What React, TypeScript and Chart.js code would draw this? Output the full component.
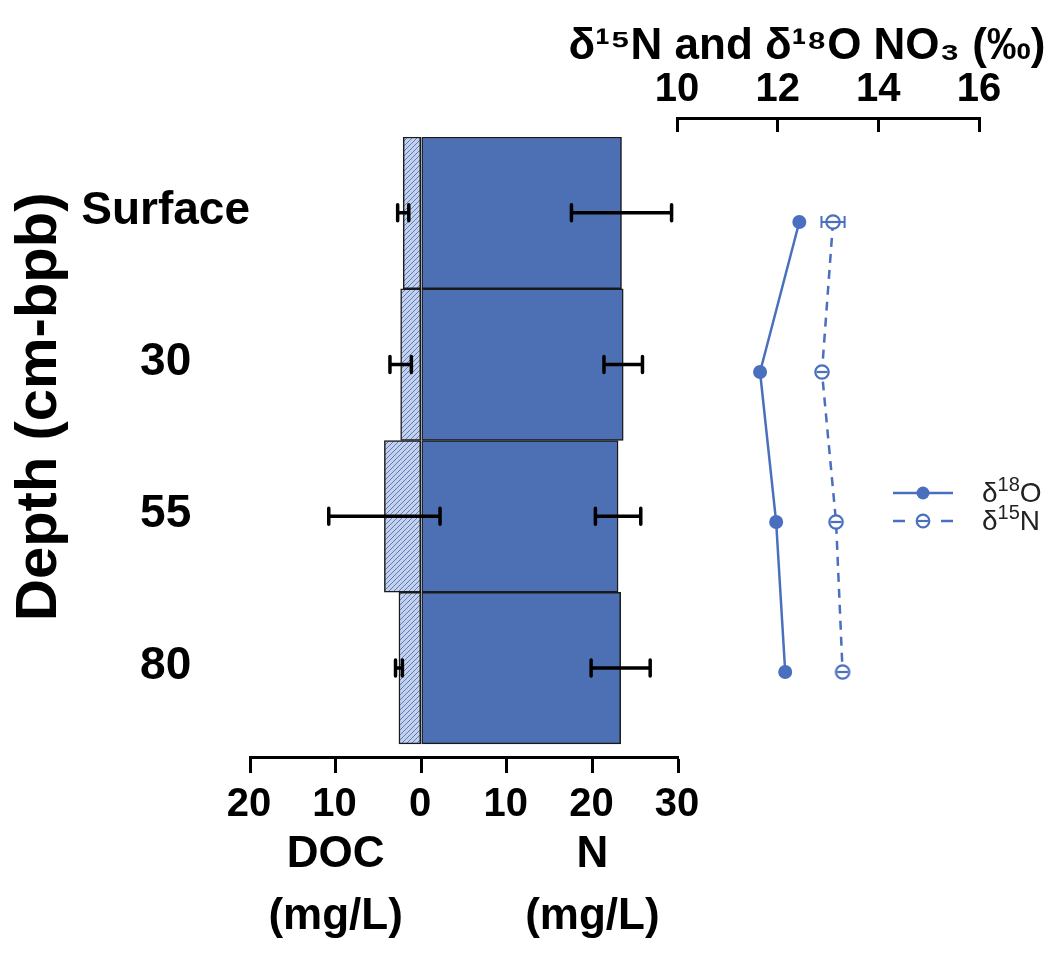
import React, { useEffect, useRef } from 'react';
import { Chart, registerables } from 'chart.js';

Chart.register(...registerables);

// ---- data ----
const depthLabels = ['Surface', '30', '55', '80'];
const depthIndex = [0, 1, 2, 3];
const docValues = [2.1, 2.4, 4.3, 2.6];
const docSd = [0.65, 1.25, 6.5, 0.4];
const nValues = [23.4, 23.6, 23.0, 23.3];
const nSd = [5.85, 2.25, 2.65, 3.45];
const d18O = [12.43, 11.65, 11.97, 12.15];
const d15N = [13.1, 12.88, 13.16, 13.29];
const d15NSd = [0.23, 0, 0, 0];
const concTicks = [-20, -10, 0, 10, 20, 30];
const isoTicks = [10, 12, 14, 16];
const unitTitlePos = [-10, 20];
const unitTitles = [['DOC', '(mg/L)'], ['N', '(mg/L)']];
const seriesNames = ['δ18O', 'δ15N'];

const BLUE = '#4a6fbe';
const BAR_BLUE = '#4d6fb3';
const FONT = 'Liberation Sans';

function makeHatch(ctx: CanvasRenderingContext2D) {
  const p = document.createElement('canvas');
  p.width = 5;
  p.height = 5;
  const g = p.getContext('2d')!;
  g.fillStyle = '#c3d1ec';
  g.fillRect(0, 0, 5, 5);
  g.strokeStyle = '#5d7cbb';
  g.lineWidth = 1;
  g.beginPath();
  g.moveTo(0, 5);
  g.lineTo(5, 0);
  g.moveTo(-1, 1);
  g.lineTo(1, -1);
  g.moveTo(4, 6);
  g.lineTo(6, 4);
  g.stroke();
  return ctx.createPattern(p, 'repeat')!;
}

function makeTheta(color: string) {
  const c = document.createElement('canvas');
  c.width = 18;
  c.height = 18;
  const g = c.getContext('2d')!;
  g.fillStyle = '#fff';
  g.beginPath();
  g.arc(9, 9, 6.7, 0, Math.PI * 2);
  g.fill();
  g.strokeStyle = color;
  g.lineWidth = 2.2;
  g.stroke();
  g.beginPath();
  g.moveTo(3.5, 9);
  g.lineTo(14.5, 9);
  g.stroke();
  return c;
}

const errPluginA = {
  id: 'errA',
  afterDatasetsDraw(chart: any) {
    const { ctx } = chart;
    const x = chart.scales.x;
    const y = chart.scales.y;
    ctx.save();
    ctx.strokeStyle = '#000';
    ctx.lineWidth = 3.5;
    ctx.lineCap = 'round';
    const cap = 8;
    const draw = (lo: number, hi: number, yy: number) => {
      const x1 = x.getPixelForValue(lo);
      const x2 = x.getPixelForValue(hi);
      ctx.beginPath();
      ctx.moveTo(x1, yy);
      ctx.lineTo(x2, yy);
      ctx.moveTo(x1, yy - cap);
      ctx.lineTo(x1, yy + cap);
      ctx.moveTo(x2, yy - cap);
      ctx.lineTo(x2, yy + cap);
      ctx.stroke();
    };
    depthIndex.forEach((i) => {
      const yy = y.getPixelForValue(i);
      draw(-(docValues[i] - docSd[i]), -(docValues[i] + docSd[i]), yy);
      draw(nValues[i] - nSd[i], nValues[i] + nSd[i], yy);
    });
    ctx.restore();
  },
};

const errPluginB = {
  id: 'errB',
  afterDatasetsDraw(chart: any) {
    const { ctx } = chart;
    const x = chart.scales.x;
    const y = chart.scales.y;
    ctx.save();
    ctx.strokeStyle = BLUE;
    ctx.lineWidth = 2;
    const cap = 6;
    depthIndex.forEach((i) => {
      if (!d15NSd[i]) return;
      const yy = y.getPixelForValue(i);
      const x1 = x.getPixelForValue(d15N[i] - d15NSd[i]);
      const x2 = x.getPixelForValue(d15N[i] + d15NSd[i]);
      ctx.beginPath();
      ctx.moveTo(x1, yy);
      ctx.lineTo(x2, yy);
      ctx.moveTo(x1, yy - cap);
      ctx.lineTo(x1, yy + cap);
      ctx.moveTo(x2, yy - cap);
      ctx.lineTo(x2, yy + cap);
      ctx.stroke();
    });
    ctx.restore();
  },
};

function LegendMarker({ dashed }: { dashed: boolean }) {
  return (
    <svg width={66} height={20} style={{ display: 'block' }}>
      {dashed ? (
        <>
          <line x1={3} y1={10} x2={15} y2={10} stroke={BLUE} strokeWidth={2.5} />
          <line x1={51} y1={10} x2={63} y2={10} stroke={BLUE} strokeWidth={2.5} />
          <circle cx={33} cy={10} r={6.3} fill="#fff" stroke={BLUE} strokeWidth={2.2} />
          <line x1={27.5} y1={10} x2={38.5} y2={10} stroke={BLUE} strokeWidth={2.2} />
        </>
      ) : (
        <>
          <line x1={3} y1={10} x2={63} y2={10} stroke={BLUE} strokeWidth={2.5} />
          <circle cx={33} cy={10} r={6.5} fill={BLUE} />
        </>
      )}
    </svg>
  );
}

const noPad = (s: any) => {
  s.paddingLeft = 0;
  s.paddingRight = 0;
  s.paddingTop = 0;
  s.paddingBottom = 0;
};

export default function App() {
  const aRef = useRef<HTMLCanvasElement>(null);
  const bRef = useRef<HTMLCanvasElement>(null);

  useEffect(() => {
    const ca = aRef.current!;
    const cb = bRef.current!;
    const hatch = makeHatch(ca.getContext('2d')!);
    const theta = makeTheta(BLUE);

    const chartA = new Chart(ca, {
      type: 'bar',
      data: {
        datasets: [
          {
            label: 'DOC',
            data: depthIndex.map((i) => ({ x: -docValues[i], y: i })),
            backgroundColor: hatch,
            borderColor: '#1a1a1a',
            borderWidth: 1.5,
            borderSkipped: false,
            grouped: false,
            categoryPercentage: 1,
            barPercentage: 1,
          } as any,
          {
            label: 'N',
            data: depthIndex.map((i) => ({ x: nValues[i], y: i })),
            backgroundColor: BAR_BLUE,
            borderColor: '#1a1a1a',
            borderWidth: 1.5,
            borderSkipped: false,
            grouped: false,
            categoryPercentage: 1,
            barPercentage: 1,
          } as any,
        ],
      },
      options: {
        indexAxis: 'y',
        animation: false,
        responsive: false,
        maintainAspectRatio: false,
        layout: { padding: { left: 0, right: 22, top: 137, bottom: 0 } },
        plugins: {
          legend: { display: false },
          tooltip: { enabled: false },
        },
        scales: {
          y: {
            type: 'linear',
            reverse: true,
            offset: false,
            min: -0.5,
            max: 3.586,
            grid: { display: false },
            border: { display: false },
            afterBuildTicks: (s: any) => {
              s.ticks = depthIndex.map((v) => ({ value: v }));
            },
            afterFit: (s: any) => {
              s.width = 250;
              noPad(s);
            },
            ticks: {
              callback: (v: any) => depthLabels[v as number],
              crossAlign: 'center',
              padding: -8,
              labelOffset: -2,
              color: '#000',
              font: { family: FONT, weight: 'bold', size: 46 },
            },
            title: {
              display: true,
              text: '     Depth (cm-bpb)',
              color: '#000',
              font: { family: FONT, weight: 'bold', size: 58 },
              padding: { top: 5, bottom: 0 },
            },
          } as any,
          x: {
            type: 'linear',
            position: 'bottom',
            min: -20,
            max: 30,
            afterBuildTicks: (s: any) => {
              s.ticks = concTicks.map((v) => ({ value: v }));
            },
            afterFit: (s: any) => {
              s.height = 70;
              noPad(s);
            },
            grid: { drawOnChartArea: false, drawTicks: true, tickLength: 16, tickWidth: 3, tickColor: '#000' },
            border: { display: true, width: 3, color: '#000' },
            ticks: {
              callback: (v: any) => String(Math.abs(v as number)),
              font: { family: FONT, weight: 'bold', size: 40 },
              color: '#000',
              padding: 8,
              labelOffset: -1,
              maxRotation: 0,
              autoSkip: false,
            },
          } as any,
          x3: {
            type: 'linear',
            position: 'bottom',
            min: -20,
            max: 30,
            afterBuildTicks: (s: any) => {
              s.ticks = unitTitlePos.map((v) => ({ value: v }));
            },
            afterFit: (s: any) => {
              s.height = 126;
              noPad(s);
            },
            grid: { display: false },
            border: { display: false },
            ticks: {
              callback: (v: any) => unitTitles[unitTitlePos.indexOf(v as number)],
              font: { family: FONT, weight: 'bold', size: 44, lineHeight: 1.41 },
              color: '#000',
              padding: -11,
              maxRotation: 0,
              autoSkip: false,
            },
          } as any,
        },
      },
      plugins: [errPluginA],
    });

    const chartB = new Chart(cb, {
      type: 'line',
      data: {
        datasets: [
          {
            label: seriesNames[0],
            data: depthIndex.map((i) => ({ x: d18O[i], y: i })),
            borderColor: BLUE,
            backgroundColor: BLUE,
            borderWidth: 2.5,
            pointStyle: 'circle',
            pointRadius: 7,
            pointBackgroundColor: BLUE,
            pointBorderColor: BLUE,
            pointBorderWidth: 0,
          },
          {
            label: seriesNames[1],
            data: depthIndex.map((i) => ({ x: d15N[i], y: i })),
            borderColor: BLUE,
            backgroundColor: '#fff',
            borderWidth: 2.5,
            borderDash: [9, 7],
            pointStyle: theta as any,
            pointRadius: 7,
          },
        ],
      },
      options: {
        indexAxis: 'y',
        animation: false,
        responsive: false,
        maintainAspectRatio: false,
        layout: { padding: { left: 0, right: 0, top: 0, bottom: 13 } },
        plugins: {
          legend: { display: false },
          tooltip: { enabled: false },
          title: {
            display: true,
            text: 'δ¹⁵N and δ¹⁸O NO₃ (‰)',
            color: '#000',
            font: { family: FONT, weight: 'bold', size: 44, lineHeight: 0.5 },
            padding: { top: 36, bottom: 0 },
          },
        },
        scales: {
          x: {
            type: 'linear',
            position: 'top',
            min: 10,
            max: 16,
            afterBuildTicks: (s: any) => {
              s.ticks = isoTicks.map((v) => ({ value: v }));
            },
            afterFit: (s: any) => {
              s.height = 60;
              noPad(s);
            },
            grid: { drawOnChartArea: false, drawTicks: true, tickLength: -14, tickWidth: 3, tickColor: '#000' },
            border: { display: true, width: 3, color: '#000' },
            ticks: {
              font: { family: FONT, weight: 'bold', size: 40 },
              color: '#000',
              padding: 18,
              labelOffset: 0,
              maxRotation: 0,
              autoSkip: false,
            },
          } as any,
          y: {
            type: 'linear',
            position: 'left',
            reverse: true,
            offset: false,
            min: -0.693,
            max: 3.5,
            grid: { display: false },
            border: { display: false },
            ticks: { display: false },
            afterFit: (s: any) => {
              s.width = 116;
              noPad(s);
            },
          } as any,
          yR: {
            type: 'linear',
            position: 'right',
            min: 0,
            max: 1,
            grid: { display: false },
            border: { display: false },
            ticks: { display: false },
            afterFit: (s: any) => {
              s.width = 74;
              noPad(s);
            },
          } as any,
        },
      },
      plugins: [errPluginB],
    });

    return () => {
      chartA.destroy();
      chartB.destroy();
    };
  }, []);

  return (
    <div style={{ position: 'absolute', left: 0, top: 0, width: 1053, height: 953, background: '#fff', overflow: 'hidden' }}>
      <canvas ref={aRef} width={700} height={953} style={{ position: 'absolute', left: 0, top: 0, width: 700, height: 953 }} />
      <canvas ref={bRef} width={492} height={760} style={{ position: 'absolute', left: 561, top: 0, width: 492, height: 760 }} />
      <div
        style={{
          position: 'absolute',
          left: 890,
          top: 479,
          fontFamily: "'Liberation Sans', Arial, sans-serif",
          fontSize: 28,
          color: '#222',
        }}
      >
        {[0, 1].map((k) => (
          <div key={k} style={{ display: 'flex', alignItems: 'center', height: 28 }}>
            <LegendMarker dashed={k === 1} />
            <span style={{ marginLeft: 26, lineHeight: '28px', whiteSpace: 'nowrap' }}>
              δ<sup style={{ fontSize: 20, verticalAlign: 'top', lineHeight: '16px', position: 'relative', top: -3 }}>{k === 0 ? '18' : '15'}</sup>
              {k === 0 ? 'O' : 'N'}
            </span>
          </div>
        ))}
      </div>
    </div>
  );
}
